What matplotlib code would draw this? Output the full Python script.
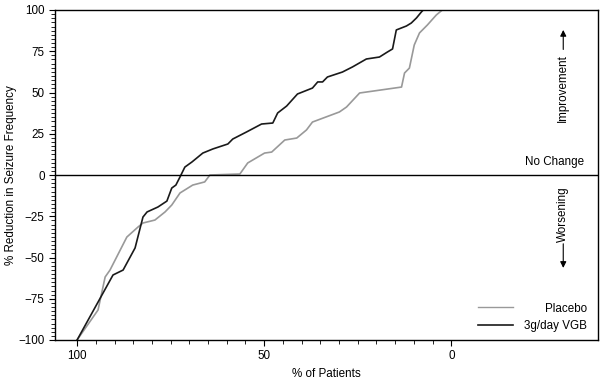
import matplotlib
matplotlib.use("Agg")
import matplotlib.pyplot as plt
from matplotlib.ticker import FixedLocator, MultipleLocator
from matplotlib.lines import Line2D

plt.rcParams['font.family'] = ['Liberation Sans Narrow', 'Liberation Sans', 'DejaVu Sans']
plt.rcParams['font.size'] = 8.4

# % of patients (x) vs % reduction in seizure frequency (y)
pct_vgb = [100, 90.4, 87.7, 84.5, 82.4, 81.3, 78.4, 76.0, 74.7, 73.6, 72.5, 71.2, 69.3,
           66.4, 63.7, 59.7, 58.4, 54.7, 50.7, 47.7, 46.4, 44.0, 41.1, 37.1, 35.7, 34.4,
           33.1, 29.1, 26.4, 22.7, 19.2, 17.1, 15.7, 14.7, 12.0, 10.7, 9.3, 8.0, 7.5]
red_vgb = [-100, -60.6, -57.6, -44.2, -25.5, -22.4, -19.4, -15.8, -7.9, -6.1, -1.2, 4.8, 7.9,
           13.3, 15.8, 18.8, 21.8, 26.1, 30.9, 31.5, 37.6, 41.8, 49.1, 52.7, 56.4, 56.4,
           59.4, 62.4, 65.5, 70.3, 71.5, 74.5, 76.4, 87.9, 90.3, 92.1, 95.2, 98.8, 100]

pct_pbo = [100, 94.4, 92.5, 91.2, 86.7, 83.7, 82.4, 79.2, 76.5, 74.7, 72.5, 69.1, 65.9,
           64.5, 56.5, 54.4, 49.9, 48.0, 44.5, 41.3, 38.7, 37.1, 29.9, 28.0, 24.5, 13.3,
           12.5, 11.2, 9.9, 8.5, 6.4, 4.0, 2.4]
red_pbo = [-100, -81.8, -61.8, -57.6, -37.6, -31.5, -29.1, -27.3, -22.4, -18.2, -10.9, -6.1, -4.2,
           0, 0.6, 7.3, 13.3, 13.9, 21.2, 22.4, 27.3, 32.1, 38.2, 41.2, 49.7, 53.3,
           61.8, 64.8, 78.8, 86.1, 90.9, 97.0, 100]

labels = ['Placebo', '3g/day VGB']

fig = plt.figure(figsize=(6.02, 3.82), dpi=100)
ax = fig.add_axes([55 / 602, 42 / 382, 543 / 602, 330 / 382])

ax.plot(pct_pbo, red_pbo, color='#999999', lw=1.2)
ax.plot(pct_vgb, red_vgb, color='#1a1a1a', lw=1.2)
ax.axhline(0, color='black', lw=1)

ax.set_xlim(105.9, -39.2)
ax.set_ylim(-100, 100)
ax.set_xticks([100, 50, 0])
ax.xaxis.set_minor_locator(FixedLocator(list(range(0, 101, 5))))
ax.set_yticks(range(-100, 101, 25))
ax.yaxis.set_minor_locator(MultipleLocator(2.5))
ax.tick_params(which='major', length=4.5, width=0.8, direction='out', top=False, right=False, pad=3)
ax.tick_params(which='minor', length=3, width=0.6, direction='out', top=False, right=False)
for s in ax.spines.values():
    s.set_linewidth(1)

ax.set_xlabel('% of Patients', labelpad=4)
ax.set_ylabel('% Reduction in Seizure Frequency', labelpad=1)

# side annotations
ax.text(0.975, 0.5 + 13 / 330, 'No Change', transform=ax.transAxes, ha='right', va='center')
ax.text(0.936, 0.764, 'Improvement', transform=ax.transAxes, rotation=90, ha='center', va='center')
ax.annotate('', xy=(0.936, 0.948), xytext=(0.936, 0.872), xycoords='axes fraction',
            arrowprops=dict(arrowstyle='-|>', color='black', lw=0.8, mutation_scale=9))
ax.text(0.936, 0.38, 'Worsening', transform=ax.transAxes, rotation=90, ha='center', va='center')
ax.annotate('', xy=(0.936, 0.21), xytext=(0.936, 0.3), xycoords='axes fraction',
            arrowprops=dict(arrowstyle='-|>', color='black', lw=0.8, mutation_scale=9))

handles = [Line2D([], [], color='#999999', lw=1), Line2D([], [], color='#1a1a1a', lw=1.2)]
leg = ax.legend(handles, labels, loc='lower right', bbox_to_anchor=(0.98, 0.025),
                frameon=False, borderpad=0, borderaxespad=0, handlelength=3.0,
                handletextpad=1.0, labelspacing=0.45)

# right-align legend texts while keeping the line samples lined up
fig.canvas.draw()
r = fig.canvas.get_renderer()
widths = [t.get_window_extent(r).width for t in leg.get_texts()]
wmax = max(widths)
for col in leg._legend_handle_box.get_children():
    for row in col.get_children():
        txt = row.get_children()[1]._text
        w = txt.get_window_extent(r).width
        row.sep = row.sep + (wmax - w) * 72 / fig.dpi

fig.savefig('out.png', dpi=100)
